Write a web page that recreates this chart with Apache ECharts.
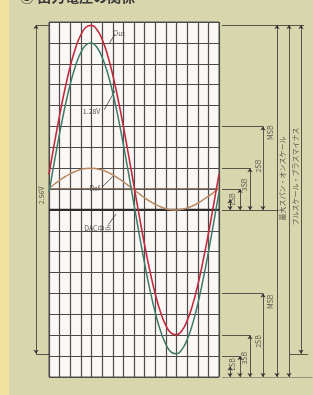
<!DOCTYPE html>
<html>
<head>
<meta charset="utf-8">
<script src="https://cdn.jsdelivr.net/npm/echarts@6/dist/echarts.min.js"></script>
<style>
html, body { margin: 0; padding: 0; background: #d8d6ac; }
#chart { width: 313px; height: 395px; }
</style>
</head>
<body>
<div id="chart"></div>
<script>
// 横軸: 目盛り(0〜16), 縦軸: 目盛り(0〜17)
var xCols = [0, 0.5, 1, 1.5, 2, 2.5, 3, 3.5, 4, 4.5, 5, 5.5, 6, 6.5, 7, 7.5, 8,
	8.5, 9, 9.5, 10, 10.5, 11, 11.5, 12, 12.5, 13, 13.5, 14, 14.5, 15, 15.5, 16];

// 赤: 出力波形
var outWave = [9.72, 11.16, 12.54, 13.79, 14.88, 15.76, 16.39, 16.76, 16.84, 16.64, 16.17,
	15.43, 14.47, 13.30, 12.0, 10.59, 9.14, 7.70, 6.32, 5.07, 3.98, 3.10, 2.47, 2.10,
	2.02, 2.22, 2.69, 3.43, 4.39, 5.56, 6.86, 8.27, 9.72];
// 緑: シフト後の波形
var shiftWave = [8.84, 10.29, 11.67, 12.93, 14.02, 14.90, 15.54, 15.91, 15.99, 15.79, 15.31,
	14.58, 13.61, 12.44, 11.13, 9.71, 8.26, 6.81, 5.43, 4.17, 3.08, 2.20, 1.56, 1.19,
	1.11, 1.31, 1.79, 2.52, 3.49, 4.66, 5.97, 7.39, 8.84];
// 茶: 小振幅波形
var smallWave = [9.04, 9.23, 9.42, 9.59, 9.73, 9.85, 9.94, 9.99, 10.0, 9.97, 9.91,
	9.81, 9.68, 9.52, 9.35, 9.16, 8.96, 8.77, 8.58, 8.41, 8.27, 8.15, 8.06, 8.01,
	8.0, 8.03, 8.09, 8.19, 8.32, 8.48, 8.65, 8.84, 9.04];

// 寸法線 (目盛り単位)
var dimArrows = [
	[[20.14, 12], [20.14, 8]], [[18.92, 10], [18.92, 8]], [[17.98, 9], [17.98, 8]], [[17.04, 8.5], [17.04, 8]],
	[[20.14, 4], [20.14, 0]], [[18.92, 2], [18.92, 0]], [[17.98, 1], [17.98, 0]], [[17.04, 0.5], [17.04, 0]],
	[[21.46, 16.86], [21.46, 0]], [[22.59, 16.86], [22.59, 0]], [[23.72, 16.86], [23.72, 1.11]],
	[[-1.22, 16.86], [-1.22, 1.11]]
];
var dimPlain = [
	[[16.28, 12], [20.14, 12]], [[16.28, 10], [18.92, 10]], [[16.28, 9], [17.98, 9]], [[16.28, 8], [21.6, 8]],
	[[16.28, 4], [20.14, 4]], [[16.28, 2], [18.92, 2]], [[16.28, 1], [17.98, 1]], [[16.28, 0], [24.8, 0]],
	[[16.28, 16.86], [24.0, 16.86]], [[22.68, 1.11], [24.38, 1.11]],
	[[-1.22, 1.11], [0, 1.11]], [[-1.22, 16.86], [0, 16.86]],
	[[5.7, 16.0], [6.2, 16.4]], [[5.2, 12.8], [6.2, 13.7]], [[5.0, 9.1], [6.0, 9.6]], [[5.6, 7.3], [6.3, 7.8]]
];
var vLabels = [
	[-0.75, 8.7, '2.56V'],
	[20.8, 11.7, 'MSB'], [19.7, 10.1, '2SB'], [18.4, 9.2, '3SB'], [17.3, 8.5, 'LSB'],
	[20.8, 3.6, 'MSB'], [19.7, 1.7, '2SB'], [18.4, 0.9, '3SB'], [17.3, 0.6, 'LSB'],
	[22.0, 9.5, '最大スパン・オンスケール'], [23.2, 9.6, 'フルスケール・プラスマイナス']
];
var hLabels = [
	[6.6, 16.45, 'Out'], [4.0, 12.7, '1.28V'], [4.3, 9.05, 'Ref'], [4.6, 7.1, 'DAC中点']
];

function pairs(ys) {
	return xCols.map(function(x, i) { return [x, ys[i]]; });
}

var myChart = echarts.init(document.getElementById('chart'));

var option = {
	animation: false,
	backgroundColor: '#d8d6ac',
	graphic: [
		{ type: 'rect', left: 0, top: 0, shape: { width: 9, height: 395 }, style: { fill: '#f1e2a2' } },
		{ type: 'text', left: 20, top: -10, style: { text: '③ 出力電圧の関係', fill: '#3a3a3a',
			font: 'bold 14px "Noto Sans CJK JP"' } }
	],
	grid: [
		{ left: 49, top: 22, width: 170, height: 355, show: true, backgroundColor: '#faf7f5',
			borderColor: '#555', borderWidth: 1 },
		{ left: 0, top: 22, width: 313, height: 355 }
	],
	xAxis: [
		{ gridIndex: 0, type: 'value', min: 0, max: 16, interval: 1,
			axisLine: { show: false }, axisTick: { show: false }, axisLabel: { show: false },
			splitLine: { show: true, lineStyle: { color: '#4d4a4a', width: 1.2 } } },
		{ gridIndex: 1, type: 'value', min: -4.612, max: 24.847, show: false }
	],
	yAxis: [
		{ gridIndex: 0, type: 'value', min: 0, max: 17, interval: 1,
			axisLine: { show: false }, axisTick: { show: false }, axisLabel: { show: false },
			splitLine: { show: true, lineStyle: { color: '#4d4a4a', width: 1.2 } } },
		{ gridIndex: 1, type: 'value', min: 0, max: 17, show: false }
	],
	series: [
		{ type: 'line', xAxisIndex: 0, yAxisIndex: 0, data: [[0, 9], [16, 9]], showSymbol: false,
			lineStyle: { color: '#6b5a4a', width: 1.6 }, silent: true },
		{ type: 'line', xAxisIndex: 0, yAxisIndex: 0, data: [[0, 8], [16, 8]], showSymbol: false,
			lineStyle: { color: '#2e2c2c', width: 2.2 }, silent: true },
		{ type: 'line', name: 'small', xAxisIndex: 0, yAxisIndex: 0, data: pairs(smallWave),
			smooth: true, showSymbol: false, lineStyle: { color: '#b98a62', width: 1.5 } },
		{ type: 'line', name: 'shift', xAxisIndex: 0, yAxisIndex: 0, data: pairs(shiftWave),
			smooth: true, showSymbol: false, lineStyle: { color: '#3d7a68', width: 1.5 } },
		{ type: 'line', name: 'out', xAxisIndex: 0, yAxisIndex: 0, data: pairs(outWave),
			smooth: true, showSymbol: false, lineStyle: { color: '#c22a3e', width: 1.6 } },
		{ type: 'lines', coordinateSystem: 'cartesian2d', xAxisIndex: 1, yAxisIndex: 1,
			symbol: ['arrow', 'arrow'], symbolSize: 4,
			lineStyle: { color: '#333', width: 0.8, opacity: 1 },
			data: dimArrows.map(function(c) { return { coords: c }; }) },
		{ type: 'lines', coordinateSystem: 'cartesian2d', xAxisIndex: 1, yAxisIndex: 1,
			symbol: 'none', lineStyle: { color: '#333', width: 0.8, opacity: 1 },
			data: dimPlain.map(function(c) { return { coords: c }; }) },
		{ type: 'scatter', xAxisIndex: 1, yAxisIndex: 1, symbolSize: 0, data: vLabels,
			label: { show: true, position: 'inside', rotate: 90, color: '#333', fontSize: 7,
				fontFamily: 'Noto Sans CJK JP', formatter: function(p) { return p.data[2]; } } },
		{ type: 'scatter', xAxisIndex: 1, yAxisIndex: 1, symbolSize: 0, data: hLabels,
			label: { show: true, position: 'inside', color: '#333', fontSize: 7,
				fontFamily: 'Noto Sans CJK JP', formatter: function(p) { return p.data[2]; } } }
	]
};

myChart.setOption(option);
</script>
</body>
</html>
